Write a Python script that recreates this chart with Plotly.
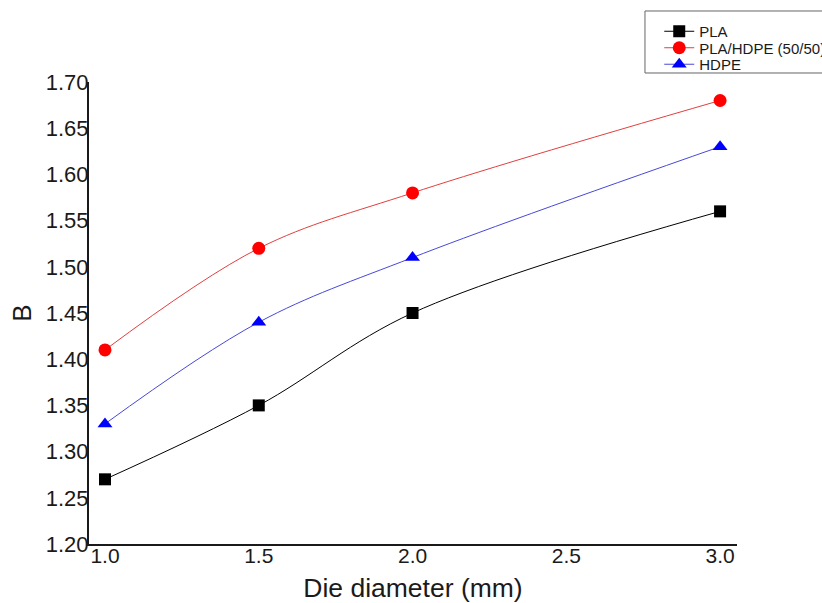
import plotly.graph_objects as go

x_vals = [1.0, 1.5, 2.0, 3.0]
pla = [1.27, 1.35, 1.45, 1.56]
blend = [1.41, 1.52, 1.58, 1.68]
hdpe = [1.33, 1.44, 1.51, 1.63]
x_ticks = [1.0, 1.5, 2.0, 2.5, 3.0]
y_ticks = [1.20, 1.25, 1.30, 1.35, 1.40, 1.45, 1.50, 1.55, 1.60, 1.65, 1.70]
names = ["PLA", "PLA/HDPE (50/50)", "HDPE"]

fig = go.Figure()
fig.add_trace(go.Scatter(x=x_vals, y=pla, name=names[0], mode="lines+markers", legend="legend",
                         line=dict(color="black", width=1, shape="spline"),
                         marker=dict(symbol="square", size=12, color="black")))
fig.add_trace(go.Scatter(x=x_vals, y=blend, name=names[1], mode="lines+markers", legend="legend2",
                         line=dict(color="#e04040", width=1, shape="spline"),
                         marker=dict(symbol="circle", size=13, color="#ff0000")))
fig.add_trace(go.Scatter(x=x_vals, y=hdpe, name=names[2], mode="lines+markers", legend="legend3",
                         line=dict(color="#4848d8", width=1, shape="spline"),
                         marker=dict(symbol="triangle-up", size=13, color="#0000ff")))

font_family = "Liberation Sans, Arial, sans-serif"
leg_common = dict(x=0.88, xanchor="left", yanchor="middle", borderwidth=0,
                  bgcolor="rgba(0,0,0,0)", itemwidth=30,
                  font=dict(size=15, family=font_family, color="#1a1a1a"))
fig.update_layout(
    width=822, height=603,
    margin=dict(l=89, r=85, t=82, b=59, autoexpand=False),
    paper_bgcolor="white", plot_bgcolor="white",
    font=dict(family=font_family, color="#1a1a1a"),
    showlegend=True,
    legend=dict(y=1.1093, **leg_common),
    legend2=dict(y=1.0736, **leg_common),
    legend3=dict(y=1.0379, **leg_common),
    shapes=[dict(type="rect", xref="paper", yref="paper", x0=0.858, x1=1.15, y0=1.0195, y1=1.1537,
                 line=dict(color="#666666", width=1), fillcolor="rgba(0,0,0,0)", layer="below")],
    xaxis=dict(range=[0.948, 3.055], tickvals=x_ticks, ticktext=[f"{v:.1f}" for v in x_ticks],
               showgrid=False, zeroline=False, showline=True, linecolor="#1a1a1a", linewidth=2,
               ticks="", tickfont=dict(size=21), ticklabelstandoff=-8,
               title=dict(text="Die diameter (mm)", font=dict(size=26.5), standoff=14)),
    yaxis=dict(range=[1.20, 1.70], tickvals=y_ticks, ticktext=[f"{v:.2f}" for v in y_ticks],
               showgrid=False, zeroline=False, showline=True, linecolor="#1a1a1a", linewidth=2,
               ticks="", tickfont=dict(size=22), ticklabelstandoff=-6,
               title=dict(text="B", font=dict(size=26), standoff=7)),
)

fig.write_html("out.html")
